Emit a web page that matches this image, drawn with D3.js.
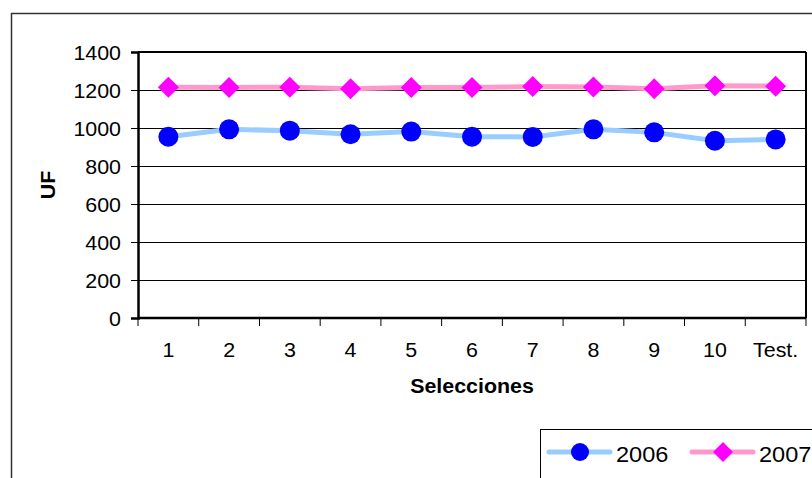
<!DOCTYPE html>
<html>
<head>
<meta charset="utf-8">
<script src="https://cdn.jsdelivr.net/npm/d3@7"></script>
<style>
  html, body { margin: 0; padding: 0; background: #fff; }
  svg { display: block; font-family: "Liberation Sans", Arial, sans-serif; }
</style>
</head>
<body>
<svg id="chart" width="812" height="478"></svg>
<script>
// Categories along the x axis
const categories = ["1", "2", "3", "4", "5", "6", "7", "8", "9", "10", "Test."];
// UF per selection, by year
const values2006 = [954, 993, 986, 967, 981, 954, 953, 993, 977, 933, 940];
const values2007 = [1214, 1213, 1215, 1206, 1213, 1213, 1218, 1216, 1207, 1223, 1220];
// Y axis ticks
const yTicks = [0, 200, 400, 600, 800, 1000, 1200, 1400];
const seriesNames = ["2006", "2007"];

const svg = d3.select("#chart");
const plot = { left: 138, top: 52, right: 806, bottom: 318 };
const stretch = 1.07; // text is drawn slightly wide

const x = d3.scaleBand().domain(categories).range([plot.left, plot.right]).padding(0);
const y = d3.scaleLinear().domain([0, 1400]).range([plot.bottom, plot.top]);

// Outer chart frame
svg.append("rect")
  .attr("x", 11.5).attr("y", 13.5)
  .attr("width", 820).attr("height", 480)
  .attr("fill", "none").attr("stroke", "#333").attr("stroke-width", 1.5);

// Horizontal gridlines
svg.append("g")
  .selectAll("line")
  .data(yTicks.filter(t => t > 0 && t < 1400))
  .join("line")
  .attr("x1", plot.left).attr("x2", plot.right)
  .attr("y1", d => Math.round(y(d)) + 0.5).attr("y2", d => Math.round(y(d)) + 0.5)
  .attr("stroke", "#000").attr("stroke-width", 1);

// Plot frame: top and right edges
svg.append("line")
  .attr("x1", plot.left).attr("x2", plot.right)
  .attr("y1", plot.top).attr("y2", plot.top)
  .attr("stroke", "#000").attr("stroke-width", 2);
svg.append("line")
  .attr("x1", plot.right).attr("x2", plot.right)
  .attr("y1", plot.top).attr("y2", plot.bottom)
  .attr("stroke", "#000").attr("stroke-width", 2);

// Y axis
const yAxis = svg.append("g")
  .attr("transform", `translate(${plot.left},0)`)
  .call(d3.axisLeft(y).tickValues(yTicks).tickFormat(d3.format("d")).tickSize(7).tickPadding(10));
yAxis.select(".domain").attr("stroke", "#000").attr("stroke-width", 2.5);
yAxis.selectAll(".tick line").attr("stroke", "#000").attr("stroke-width", 1);
yAxis.selectAll(".tick text")
  .attr("font-size", 20).attr("fill", "#000")
  .attr("font-family", "'Liberation Sans', Arial, sans-serif")
  .attr("dy", "0.35em")
  .attr("transform", `scale(${stretch},1)`)
  .attr("x", -17 / stretch);

// X axis: ticks between categories
const boundaries = d3.range(categories.length + 1).map(i => plot.left + i * x.bandwidth());
const xAxisG = svg.append("g");
xAxisG.append("line")
  .attr("x1", plot.left).attr("x2", plot.right)
  .attr("y1", plot.bottom).attr("y2", plot.bottom)
  .attr("stroke", "#000").attr("stroke-width", 2.5);
xAxisG.selectAll("line.tk")
  .data(boundaries)
  .join("line").attr("class", "tk")
  .attr("x1", d => d).attr("x2", d => d)
  .attr("y1", plot.bottom).attr("y2", plot.bottom + 8)
  .attr("stroke", "#000").attr("stroke-width", 1);
xAxisG.selectAll("text")
  .data(categories)
  .join("text")
  .attr("transform", d => `translate(${x(d) + x.bandwidth() / 2},${357}) scale(${stretch},1)`)
  .attr("text-anchor", "middle")
  .attr("font-size", 20).attr("fill", "#000")
  .text(d => d);

// Axis titles
svg.append("text")
  .attr("transform", `translate(${(plot.left + plot.right) / 2},${393}) scale(${stretch},1)`)
  .attr("text-anchor", "middle")
  .attr("font-size", 20).attr("font-weight", "bold")
  .text("Selecciones");
svg.append("text")
  .attr("transform", `translate(55,${(plot.top + plot.bottom) / 2}) rotate(-90) scale(${stretch},1)`)
  .attr("text-anchor", "middle")
  .attr("font-size", 20).attr("font-weight", "bold")
  .text("UF");

// Series
const cx = d => x(d) + x.bandwidth() / 2;
const line = d3.line().x(d => cx(d.cat)).y(d => y(d.v));
const data2006 = categories.map((c, i) => ({ cat: c, v: values2006[i] }));
const data2007 = categories.map((c, i) => ({ cat: c, v: values2007[i] }));

const diamond = (s) => `M0,${-s}L${s},0L0,${s}L${-s},0Z`;

svg.append("path").datum(data2007)
  .attr("d", line).attr("fill", "none")
  .attr("stroke", "#FF99CC").attr("stroke-width", 5);
svg.append("g").selectAll("path")
  .data(data2007).join("path")
  .attr("transform", d => `translate(${cx(d.cat)},${y(d.v)})`)
  .attr("d", diamond(10.5)).attr("fill", "#FF00FF");

svg.append("path").datum(data2006)
  .attr("d", line).attr("fill", "none")
  .attr("stroke", "#99CCFF").attr("stroke-width", 5);
svg.append("g").selectAll("circle")
  .data(data2006).join("circle")
  .attr("cx", d => cx(d.cat)).attr("cy", d => y(d.v))
  .attr("r", 10).attr("fill", "#0000FF");

// Legend
const legend = svg.append("g");
legend.append("rect")
  .attr("x", 540.5).attr("y", 429.5).attr("width", 300).attr("height", 60)
  .attr("fill", "#fff").attr("stroke", "#000").attr("stroke-width", 1);
const legendItems = [
  { name: seriesNames[0], line: "#99CCFF", mark: "#0000FF", shape: "circle", x0: 549 },
  { name: seriesNames[1], line: "#FF99CC", mark: "#FF00FF", shape: "diamond", x0: 692 }
];
legendItems.forEach(it => {
  const g = legend.append("g").attr("transform", `translate(${it.x0},452)`);
  g.append("line").attr("x1", 0).attr("x2", 61).attr("y1", 0).attr("y2", 0)
    .attr("stroke", it.line).attr("stroke-width", 5).attr("stroke-linecap", "round");
  if (it.shape === "circle") {
    g.append("circle").attr("cx", 31).attr("cy", 0).attr("r", 9).attr("fill", it.mark);
  } else {
    g.append("path").attr("transform", "translate(31,0)").attr("d", diamond(10)).attr("fill", it.mark);
  }
  g.append("text")
    .attr("transform", `translate(67,10) scale(${stretch},1)`)
    .attr("font-size", 22).attr("fill", "#000")
    .text(it.name);
});
</script>
</body>
</html>
